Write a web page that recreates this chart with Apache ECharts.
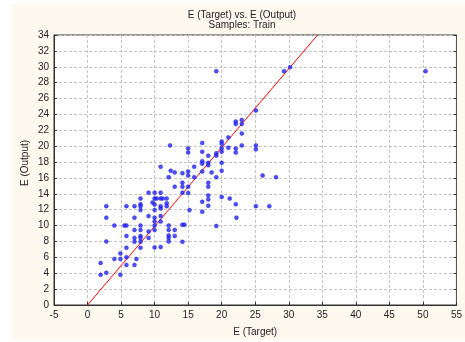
<!DOCTYPE html>
<html>
<head>
<meta charset="utf-8">
<script src="https://cdn.jsdelivr.net/npm/echarts@6/dist/echarts.min.js"></script>
<style>html,body{margin:0;padding:0;background:#fff}#c{width:465px;height:342px}</style>
</head>
<body>
<div id="c"></div>
<script>
var titleText = 'E (Target) vs. E (Output)';
var subtitleText = 'Samples: Train';
var xName = 'E (Target)';
var yName = 'E (Output)';
var xMin = -5, xMax = 55, xStep = 5;
var yMin = 0, yMax = 34, yStep = 2;

var targetX = [
 1.95,1.95,
 2.8,2.8,2.8,2.8,
 4.0,4.0,
 4.9,4.9,4.9,
 5.5,
 5.8,5.8,5.8,5.8,5.8,5.8,
 7.0,7.0,7.0,7.0,7.0,7.0,
 7.3,
 7.9,7.9,7.9,7.9,7.9,7.9,7.9,7.9,7.9,7.9,
 9.1,9.1,9.1,9.1,
 9.7,
 10,10,10,10,10,10,10,10,10,
 10.3,
 10.9,10.9,10.9,10.9,10.9,10.9,10.9,10.9,
 11.2,
 11.8,11.8,11.8,
 12.3,12.4,12.1,12.1,12.1,12.1,12.1,12.1,
 13.0,13.0,13.0,13.0,
 14.15,14.15,14.15,14.15,14.15,14.45,14.15,
 15,15,15,15,15,15,
 15.2,
 15.9,15.9,
 17.1,17.1,17.1,17.1,17.1,17.1,17.1,
 18,18,18,18,18,18,18,18,
 18.5,
 19.2,19.2,19.2,19.2,19.2,
 20,20,20,20,20,20,20,
 21,21,21.2,
 22.1,22.1,22.1,22.1,22.1,22.2,
 23,23,23,23,
 25.1,25.1,25.1,25.1,
 26.1,
 27.1,
 28.1,
 29.3,
 30.2,
 50.4
];
var outputY = [
 5.3,3.8,
 12.45,11.0,8.0,4.05,
 10.0,5.8,
 6.5,5.8,3.8,
 10.0,
 10.0,12.45,8.7,7.2,6.0,5.05,
 12.45,11.0,9.45,8.45,7.95,5.05,
 5.8,
 13.4,12.7,12.45,11.95,10.0,9.45,8.7,8.45,7.95,7.2,
 14.15,11.2,9.25,8.45,
 12.9,
 14.15,13.4,12.65,11.95,11.0,10.5,10.0,9.45,7.25,
 13.4,
 17.4,14.15,13.4,12.45,12.15,11.2,10.5,7.3,
 13.4,
 13.4,12.8,12.45,
 20.1,16.9,16.1,10.0,9.45,8.75,8.45,8.0,
 16.7,14.9,9.45,8.7,
 16.6,15.4,14.9,14.15,10.1,10.1,7.95,
 19.7,19.2,16.8,16.3,14.9,14.1,
 11.95,
 17.4,16.1,
 20.4,19.3,18.1,17.8,16.8,13.0,11.75,
 18.8,17.9,17.6,15.4,14.9,13.8,13.3,12.5,
 16.7,
 29.45,19.1,18.8,16.1,9.95,
 20.6,20.3,19.75,19.3,17.9,16.9,13.6,
 21.1,19.8,13.4,
 23.1,22.8,19.7,19.2,12.7,11.0,
 23.3,22.8,21.6,20.1,
 24.5,20.1,19.6,12.45,
 16.3,
 12.45,
 16.1,
 29.45,
 29.95,
 29.45
];
var fitLineX = [0, 34.3];
var fitLineY = [0, 34];

var pts = targetX.map(function(x, i){ return [x, outputY[i]]; });
var linePts = fitLineX.map(function(x, i){ return [x, fitLineY[i]]; });

var font = '"Liberation Sans", Arial, sans-serif';
var chart = echarts.init(document.getElementById('c'), null, {renderer: 'canvas'});
chart.setOption({
  animation: false,
  backgroundColor: '#ffffff',
  graphic: [
    {type: 'rect', z: -10, silent: true, shape: {x: 12, y: 4, width: 453, height: 336}, style: {fill: '#fdf9ee'}},
    {type: 'text', x: 242, y: 15.5, style: {text: titleText, align: 'center', verticalAlign: 'middle', fill: '#222', font: '10px ' + font}},
    {type: 'text', x: 242, y: 25.5, style: {text: subtitleText, align: 'center', verticalAlign: 'middle', fill: '#222', font: '10px ' + font}},
    {type: 'text', x: 25, y: 163, rotation: Math.PI / 2, style: {text: yName, align: 'center', verticalAlign: 'middle', fill: '#222', font: '10px ' + font}}
  ],
  grid: {left: 54, right: 8, top: 35, bottom: 35, show: true, backgroundColor: '#ffffff', borderColor: '#333', borderWidth: 1},
  xAxis: {
    type: 'value', min: xMin, max: xMax, interval: xStep,
    name: xName, nameLocation: 'middle', nameGap: 22,
    nameTextStyle: {color: '#222', fontSize: 10, fontFamily: font},
    axisLine: {show: true, onZero: false, lineStyle: {color: '#333', width: 1}},
    axisTick: {show: true, inside: true, length: 3, lineStyle: {color: '#333'}},
    axisLabel: {color: '#222', fontSize: 10, fontFamily: font, margin: 5},
    splitLine: {show: true, lineStyle: {color: '#c4c4c4', type: [3, 2], width: 1}}
  },
  yAxis: [{
    type: 'value', min: yMin, max: yMax, interval: yStep,
    axisLine: {show: true, onZero: false, lineStyle: {color: '#333', width: 1}},
    axisTick: {show: true, inside: true, length: 3, lineStyle: {color: '#333'}},
    axisLabel: {color: '#222', fontSize: 10, fontFamily: font, margin: 5},
    splitLine: {show: true, lineStyle: {color: '#c4c4c4', type: [3, 2], width: 1}}
  }, {
    type: 'value', min: yMin, max: yMax, interval: yStep, position: 'right',
    axisLine: {show: true, onZero: false, lineStyle: {color: '#555', width: 1}},
    axisTick: {show: true, inside: true, length: 3, lineStyle: {color: '#333'}},
    axisLabel: {show: false},
    splitLine: {show: false}
  }],
  series: [
    {type: 'line', data: linePts, showSymbol: false, symbol: 'none', lineStyle: {color: '#ff0000', width: 1}, z: 2, clip: true, silent: true},
    {type: 'scatter', data: pts, symbol: 'circle', symbolSize: 4, itemStyle: {color: '#2424ff', borderColor: '#1010c8', borderWidth: 0.5}, z: 3}
  ]
});
</script>
</body>
</html>
